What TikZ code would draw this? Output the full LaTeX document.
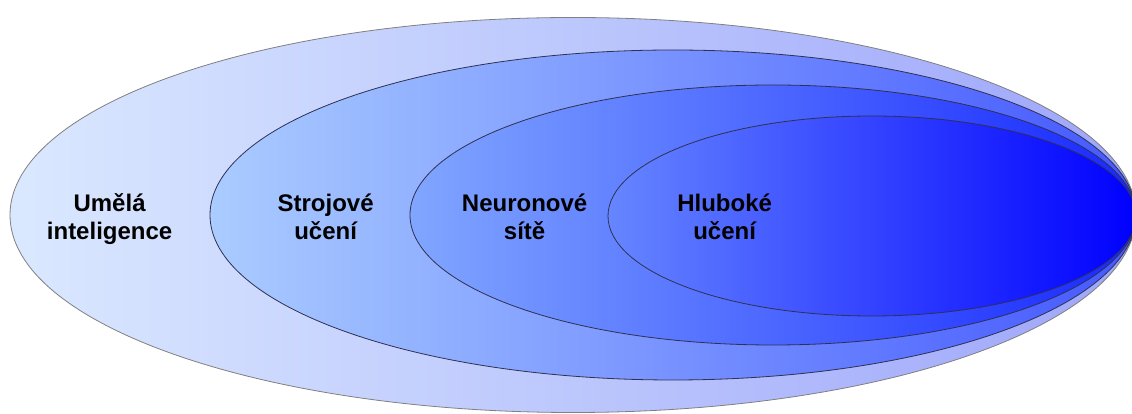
\documentclass[tikz,border=0pt]{standalone}
\usepackage{fontspec}
\setmainfont{Liberation Sans}
\usetikzlibrary{positioning, calc, shapes.geometric}

\definecolor{aiLeft}{HTML}{DAE8FF}
\definecolor{aiRight}{HTML}{9EA6FA}
\definecolor{mlLeft}{HTML}{AACCFF}
\definecolor{mlRight}{HTML}{4458FF}
\definecolor{nnLeft}{HTML}{80A6FF}
\definecolor{nnRight}{HTML}{1828FF}
\definecolor{dlLeft}{HTML}{6686FF}
\definecolor{dlRight}{HTML}{0000FF}
\definecolor{rimDark}{HTML}{303050}

\begin{document}
\begin{tikzpicture}
    [x=1pt, y=1pt,
    setnode/.style={ellipse, inner sep=0pt, line width=0.8pt, draw=rimDark},
    labelnode/.style={font=\fontsize{24}{28}\selectfont\bfseries, align=center, text=black}]

    \useasboundingbox (0,0) rectangle (1132,414);

    %Sets
    \node[setnode, draw=gray, left color=aiLeft, right color=aiRight,
          minimum width=1126pt, minimum height=395pt](ai) at (573,199){};
    \node[setnode, left color=mlLeft, right color=mlRight,
          minimum width=926pt, minimum height=330pt](ml) at (673,199){};
    \node[setnode, left color=nnLeft, right color=nnRight,
          minimum width=726pt, minimum height=260pt](nn) at (773,199){};
    \node[setnode, left color=dlLeft, right color=dlRight,
          minimum width=528pt, minimum height=200pt](dl) at (872,198){};

    %Labels
    \node[labelnode](ailabel) at ($(ai.west)+(100,-4)$){Umělá\\inteligence};
    \node[labelnode](mllabel) at ($(ml.west)+(116,-2)$){Strojové\\učení};
    \node[labelnode](nnlabel) at ($(nn.west)+(115,-2)$){Neuronové\\sítě};
    \node[labelnode](dllabel) at ($(dl.west)+(117,-1)$){Hluboké\\učení};
\end{tikzpicture}
\end{document}
